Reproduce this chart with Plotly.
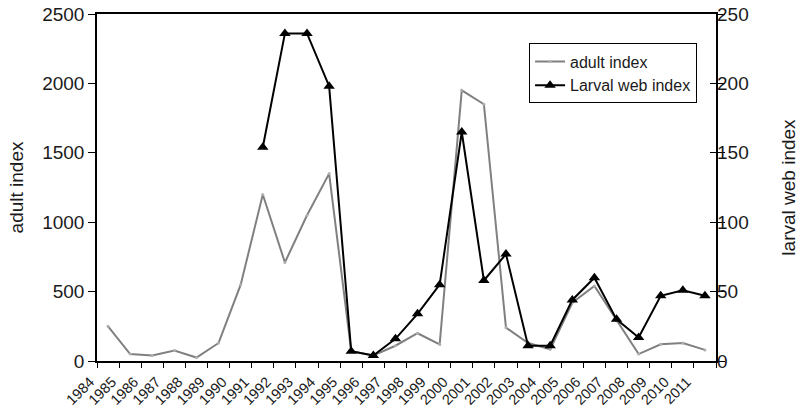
import plotly.graph_objects as go

years = list(range(1984, 2012))
adult_index = [250, 50, 40, 75, 25, 130, 550, 1200, 710, 1050, 1350, 70, 40, 110,
               200, 120, 1950, 1850, 240, 130, 85, 420, 540, 290, 50, 120, 130, 80]
larval_index = [None] * 7 + [154, 236, 236, 198, 7, 4, 16, 34, 55, 165, 58, 77,
                             11, 11, 44, 60, 30, 17, 47, 51, 47]

# categories are drawn as bins; each point sits at the centre of its bin
xpos = [i + 0.5 for i in range(len(years))]
tick_vals = list(range(len(years) + 1))
tick_text = [str(y) for y in years] + [""]

FONT = "Liberation Sans, Arial, sans-serif"
INK = "#1a1a1a"

fig = go.Figure()
fig.add_trace(go.Scatter(
    x=xpos, y=adult_index, name="adult index", mode="lines+markers",
    line=dict(color="#808080", width=2),
    marker=dict(size=3, color="#b0b0b0"),
    yaxis="y"))
fig.add_trace(go.Scatter(
    x=xpos, y=larval_index, name="Larval web index", mode="lines+markers",
    line=dict(color="#000000", width=2),
    marker=dict(symbol="triangle-up", size=10, color="#000000"),
    connectgaps=False, yaxis="y2"))

fig.update_layout(
    width=799, height=408,
    margin=dict(l=97, r=83, t=14, b=47),
    paper_bgcolor="white", plot_bgcolor="white",
    font=dict(family=FONT, color=INK),
    showlegend=True,
    legend=dict(x=0.698, y=0.915, xanchor="left", yanchor="top",
                bordercolor="#000000", borderwidth=1, bgcolor="white",
                font=dict(size=16, family=FONT, color=INK), itemwidth=30,
                tracegroupgap=0),
    xaxis=dict(range=[0, 28], tickmode="array", tickvals=tick_vals,
               ticktext=tick_text, tickangle=-45, ticks="outside", ticklen=5,
               tickcolor="#000", showgrid=False, zeroline=False,
               showline=True, linecolor="#000", linewidth=1.5, mirror=True,
               automargin=False, ticklabelshift=-7,
               tickfont=dict(size=14.5, family=FONT, color=INK)),
    yaxis=dict(range=[0, 2500], tickvals=[0, 500, 1000, 1500, 2000, 2500],
               ticks="outside", ticklen=7, tickcolor="#000", showgrid=False,
               zeroline=False, showline=True, linecolor="#000", linewidth=1.5,
               mirror="ticks", automargin=False,
               tickfont=dict(size=19, family=FONT, color=INK),
               title=dict(text="adult index",
                          font=dict(size=19, family=FONT, color=INK),
                          standoff=14)),
    yaxis2=dict(range=[0, 250], tickvals=[0, 50, 100, 150, 200, 250],
                overlaying="y", side="right", ticks="inside", ticklen=6,
                tickcolor="#000", showgrid=False, zeroline=False,
                showline=False, automargin=False,
                tickfont=dict(size=19, family=FONT, color=INK),
                title=dict(text="larval web index",
                           font=dict(size=19, family=FONT, color=INK),
                           standoff=36)),
)

fig.write_html("out.html")
